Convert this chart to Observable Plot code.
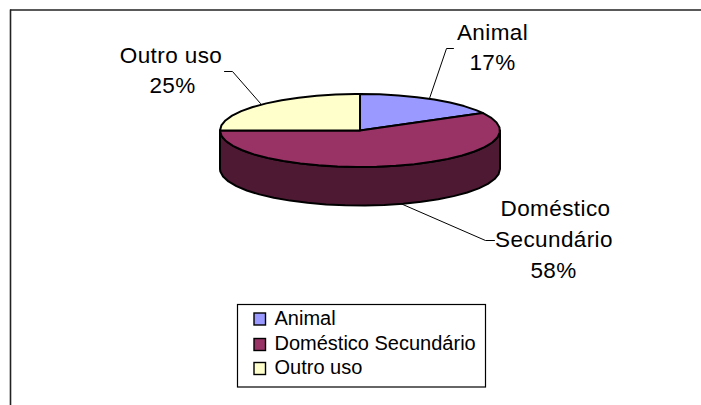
<!DOCTYPE html>
<html>
<head>
<meta charset="utf-8">
<script src="https://cdn.jsdelivr.net/npm/d3@7"></script>
<script src="https://cdn.jsdelivr.net/npm/@observablehq/plot@0.6"></script>
<style>html,body{margin:0;padding:0;background:#fff;overflow:hidden}svg{display:block}.lbl text{letter-spacing:.4px}</style>
</head>
<body>
<div id="chart"></div>
<script>
const categories = ["Animal", "Doméstico Secundário", "Outro uso"];
const shares = [17, 58, 25];
const colors = ["#9999FF", "#993366", "#FFFFCC"];

// Layout of the pseudo-3D pie, in chart pixels
const pie = {cx: 359.5, cy: 130, rx: 140, ry: 36.5, depth: 38.5, step: 8};
const sideColor = "#4D1933";
const font = "Liberation Sans, Arial, sans-serif";

const rim = (deg, drop = 0) => ({
  x: pie.cx + pie.rx * Math.sin(deg * Math.PI / 180),
  y: pie.cy - pie.ry * Math.cos(deg * Math.PI / 180) + drop
});
const arc = (a, b, drop = 0) => {
  const pts = [];
  for (let d = a; d < b; d += pie.step) pts.push(rim(d, drop));
  pts.push(rim(b, drop));
  return pts;
};

// Top-face slices built from the shares
let start = 0;
const slices = categories.flatMap((category, i) => {
  const end = start + shares[i] * 3.6;
  const c = {x: pie.cx, y: pie.cy};
  const pts = [c, ...arc(start, end), c].map(p => ({...p, category}));
  start = end;
  return pts;
});

// Visible wall: front half of the rim, extruded
const wall = [...arc(90, 270), ...arc(90, 270, pie.depth).reverse(), rim(90)];

// Leader lines and data labels
const leaders = [
  {id: "Animal", pts: [[429, 98], [446, 48], [453, 48]]},
  {id: "Doméstico Secundário", pts: [[400, 203], [485, 240], [494, 240]]},
  {id: "Outro uso", pts: [[260, 103], [232, 71], [224, 71]]}
].flatMap(l => l.pts.map(([x, y]) => ({id: l.id, x, y})));

const labels = [
  {t: "Animal", x: 492, y: 32},
  {t: shares[0] + "%", x: 492, y: 62},
  {t: "Doméstico", x: 555, y: 208},
  {t: "Secundário", x: 553.5, y: 239},
  {t: shares[1] + "%", x: 553, y: 270},
  {t: "Outro uso", x: 170.5, y: 55},
  {t: shares[2] + "%", x: 172, y: 85}
];

// Legend
const legendRows = categories.map((c, i) => ({c, y: [319, 344.5, 368.5][i]}));

const chart = Plot.plot({
  width: 701,
  height: 405,
  margin: 0,
  style: {background: "#fff", fontFamily: font},
  x: {domain: [0, 701], range: [0, 701], axis: null},
  y: {domain: [0, 405], range: [0, 405], axis: null},
  color: {domain: categories, range: colors},
  marks: [
    // chart-area border (cropped on the right and bottom)
    Plot.ruleY([9.5], {x1: 10, x2: 701, stroke: "#222", strokeWidth: 1.6}),
    Plot.ruleX([10], {y1: 9.5, y2: 405, stroke: "#222", strokeWidth: 1.6}),
    // leaders
    Plot.line(leaders, {x: "x", y: "y", z: "id", stroke: "#000", strokeWidth: 1, curve: "linear"}),
    // wall and slices
    Plot.line(wall, {x: "x", y: "y", fill: sideColor, stroke: "#000", strokeWidth: 2, strokeLinejoin: "round", curve: "linear"}),
    Plot.line(slices, {x: "x", y: "y", z: "category", fill: "category", stroke: "#000", strokeWidth: 2, strokeLinejoin: "round", curve: "linear"}),
    // labels
    Plot.text(labels, {x: "x", y: "y", text: "t", fontSize: 22.5, fill: "#000", fontFamily: font, className: "lbl"}),
    // legend
    Plot.rect([{}], {x1: () => 237.5, x2: () => 485.5, y1: () => 304.5, y2: () => 387, fill: "#fff", stroke: "#000", strokeWidth: 1.2}),
    Plot.rect(legendRows, {x1: () => 254, x2: () => 265.5, y1: d => d.y - 6, y2: d => d.y + 6, fill: "c", stroke: "#000", strokeWidth: 1.4}),
    Plot.text(legendRows, {x: () => 274, y: d => d.y - 1, text: "c", textAnchor: "start", fontSize: 20, fill: "#000", fontFamily: font})
  ]
});
document.getElementById("chart").appendChild(chart);
</script>
</body>
</html>
